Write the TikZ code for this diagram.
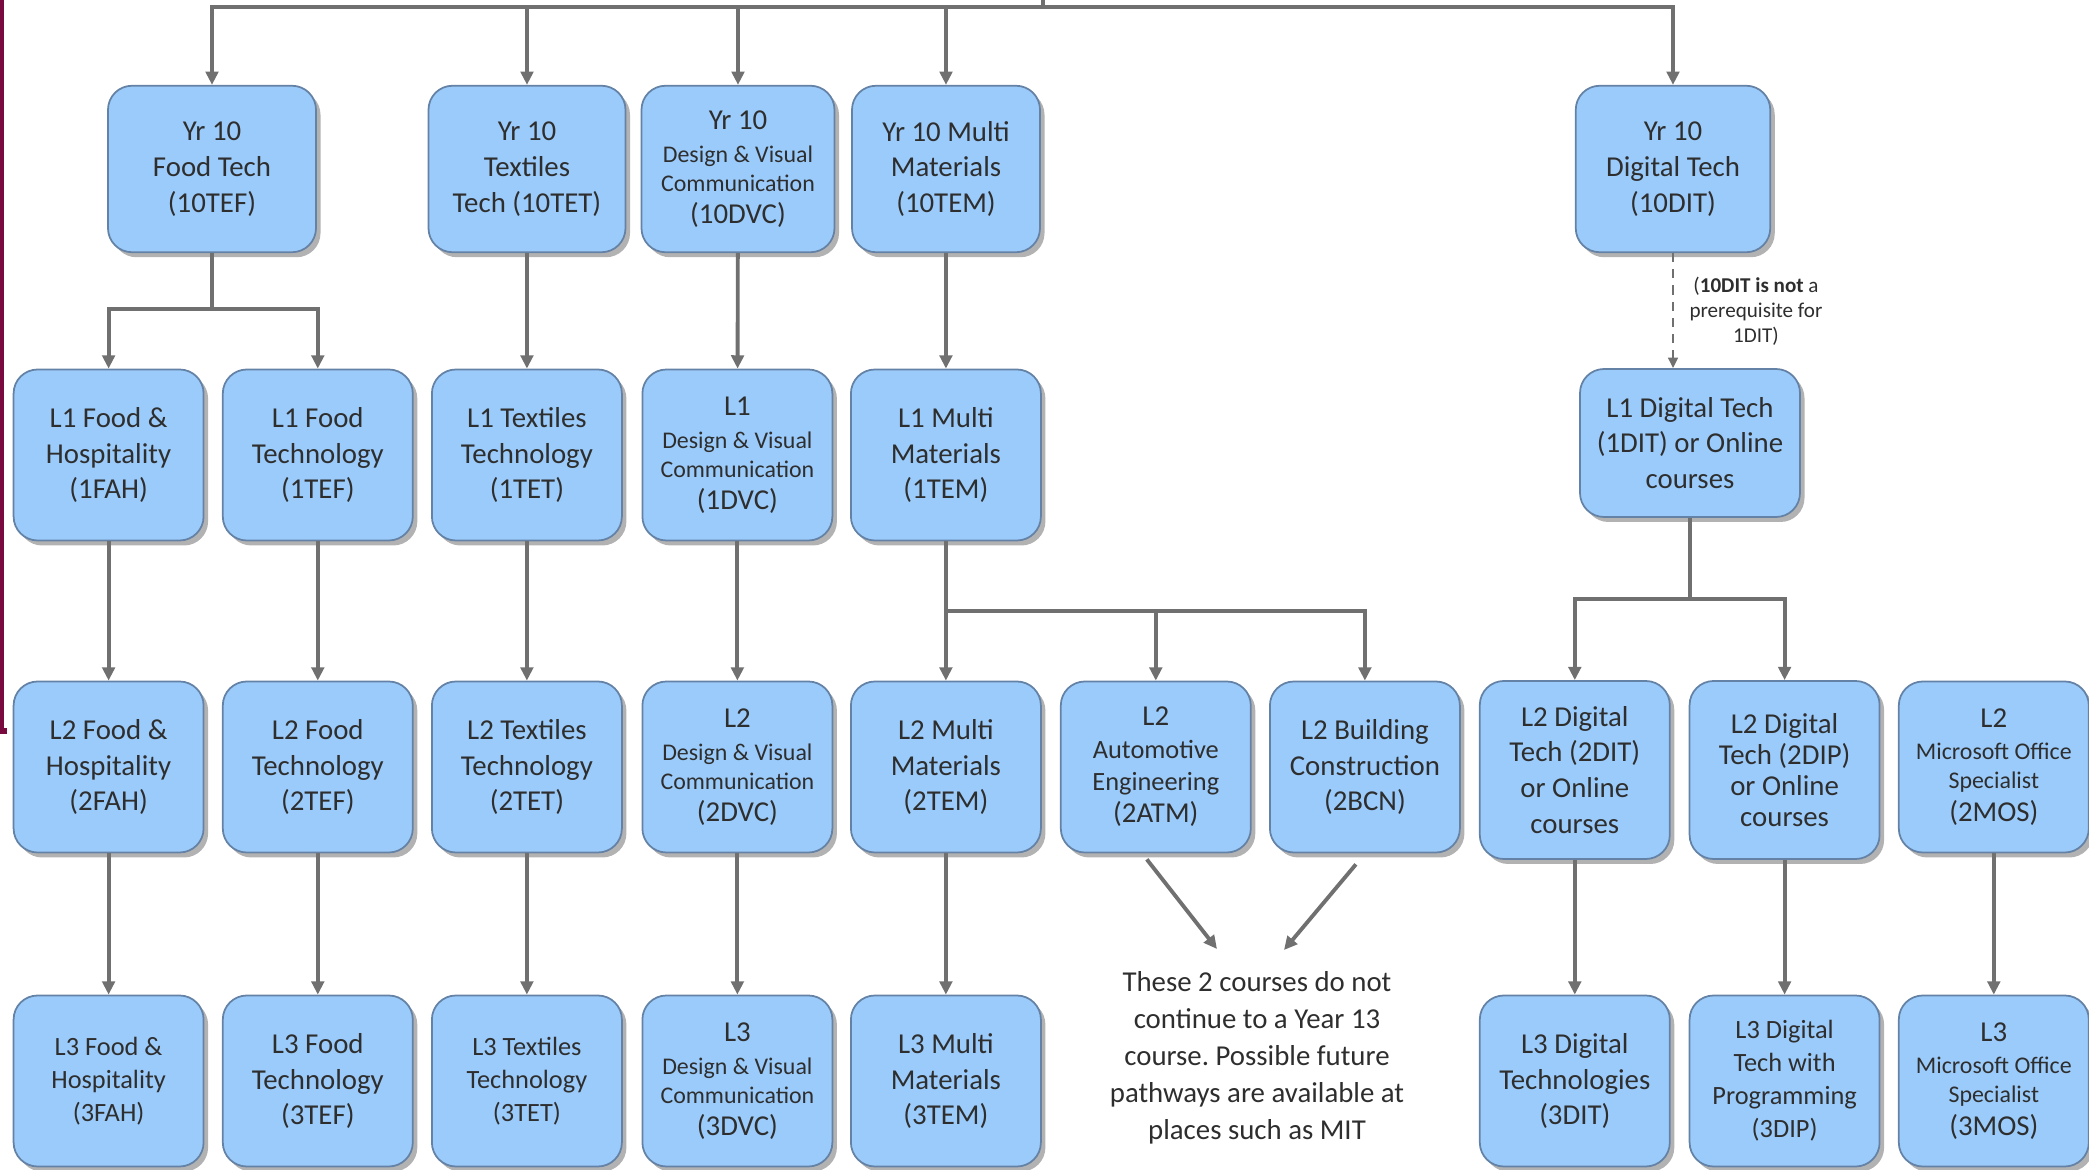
\documentclass[tikz,border=0pt]{standalone}
\usepackage{fontspec}
\setmainfont{Carlito}
\usepackage{tikz}
\usetikzlibrary{arrows.meta,positioning,shadows}
\frenchspacing

\newcommand{\subsize}{\fontsize{6.8}{8.3}\selectfont}
\newcommand{\midsize}{\fontsize{7.5}{9.4}\selectfont}

\begin{document}
\begin{tikzpicture}[every node/.style={font=\fontsize{8.2}{10.2}\selectfont, text=black!82},
    course/.style={draw=boxedge, line width=0.5pt, fill=boxfill, rounded corners=0.24cm, align=center,
        minimum width=1.9cm, minimum height=1.71cm, inner sep=1pt,
        drop shadow={shadow xshift=0.045cm, shadow yshift=-0.05cm, fill=black!30, opacity=1}},
    link/.style={draw=linegray, line width=1.1pt},
    >={Triangle[length=3.8pt,width=3.6pt]}]
        \definecolor{boxfill}{RGB}{155,203,250}
        \definecolor{boxedge}{RGB}{100,130,165}
        \definecolor{linegray}{RGB}{112,112,112}
        \definecolor{edgemaroon}{RGB}{120,10,64}

        \useasboundingbox (0,0) rectangle (20.89,-11.70);

        % page edge on the far left
        \draw[edgemaroon, line width=1.6pt] (0.01,0) -- (0.01,-7.31) -- (0.07,-7.31);

        % Year 10 courses
        \node[course, minimum width=2.08cm, minimum height=1.665cm] (tef10) at (2.12,-1.69) {Yr 10\\Food Tech\\(10TEF)};
        \node[course, minimum width=1.97cm, minimum height=1.665cm] (tet10) at (5.27,-1.69) {Yr 10\\Textiles\\Tech (10TET)};
        \node[course, minimum width=1.93cm, minimum height=1.665cm] (dvc10) at (7.38,-1.69) {Yr 10\\[-0.8pt]{\subsize Design \& Visual}\\[-1.9pt]{\subsize Communication}\\[-1.1pt](10DVC)};
        \node[course, minimum width=1.88cm, minimum height=1.665cm] (tem10) at (9.46,-1.69) {Yr 10 Multi\\Materials\\(10TEM)};
        \node[course, minimum width=1.945cm, minimum height=1.665cm] (dit10) at (16.73,-1.69) {Yr 10\\Digital Tech\\(10DIT)};

        % Level 1
        \node[course] (fah1) at (1.086,-4.55) {L1 Food \&\\Hospitality\\(1FAH)};
        \node[course] (tef1) at (3.178,-4.55) {L1 Food\\Technology\\(1TEF)};
        \node[course] (tet1) at (5.269,-4.55) {L1 Textiles\\Technology\\(1TET)};
        \node[course] (dvc1) at (7.374,-4.55) {L1\\[-0.8pt]{\subsize Design \& Visual}\\[-1.9pt]{\subsize Communication}\\[-1.1pt](1DVC)};
        \node[course] (tem1) at (9.459,-4.55) {L1 Multi\\Materials\\(1TEM)};
        \node[course, minimum width=2.2cm, minimum height=1.48cm] (dit1) at (16.90,-4.43) {L1 Digital Tech\\(1DIT) or Online\\courses};

        % Level 2
        \node[course] (fah2) at (1.086,-7.67) {L2 Food \&\\Hospitality\\(2FAH)};
        \node[course] (tef2) at (3.178,-7.67) {L2 Food\\Technology\\(2TEF)};
        \node[course] (tet2) at (5.269,-7.67) {L2 Textiles\\Technology\\(2TET)};
        \node[course] (dvc2) at (7.374,-7.67) {L2\\[-0.8pt]{\subsize Design \& Visual}\\[-1.9pt]{\subsize Communication}\\[-1.1pt](2DVC)};
        \node[course] (tem2) at (9.459,-7.67) {L2 Multi\\Materials\\(2TEM)};
        \node[course] (atm2) at (11.558,-7.67) {L2\\[-1pt]{\midsize Automotive}\\[-1pt]{\midsize Engineering}\\[-1pt](2ATM)};
        \node[course] (bcn2) at (13.649,-7.67) {L2 Building\\Construction\\(2BCN)};
        \node[course, minimum height=1.78cm] (dit2) at (15.748,-7.70) {L2 Digital\\Tech (2DIT)\\or Online\\courses};
        \node[course, minimum height=1.78cm] (dip2) at (17.846,-7.70) {L2 Digital\\[-1.4pt]Tech (2DIP)\\[-1.4pt]or Online\\[-1.4pt]courses};
        \node[course] (mos2) at (19.938,-7.67) {L2\\[-1pt]{\subsize Microsoft Office}\\[-1.9pt]{\subsize Specialist}\\[-1pt](2MOS)};

        % Level 3
        \node[course, font=\midsize] (fah3) at (1.086,-10.81) {L3 Food \&\\Hospitality\\(3FAH)};
        \node[course] (tef3) at (3.178,-10.81) {L3 Food\\Technology\\(3TEF)};
        \node[course, font=\midsize] (tet3) at (5.269,-10.81) {L3 Textiles\\Technology\\(3TET)};
        \node[course] (dvc3) at (7.374,-10.81) {L3\\[-0.8pt]{\subsize Design \& Visual}\\[-1.9pt]{\subsize Communication}\\[-1.1pt](3DVC)};
        \node[course] (tem3) at (9.459,-10.81) {L3 Multi\\Materials\\(3TEM)};
        \node[course] (dit3) at (15.748,-10.81) {L3 Digital\\Technologies\\(3DIT)};
        \node[course, font=\midsize] (dip3) at (17.846,-10.81) {L3 Digital\\Tech with\\Programming\\(3DIP)};
        \node[course] (mos3) at (19.938,-10.81) {L3\\[-1pt]{\subsize Microsoft Office}\\[-1.9pt]{\subsize Specialist}\\[-1pt](3MOS)};

        % Notes
        \node[font=\fontsize{8.2}{10.5}\selectfont, align=center] (note) at (12.57,-10.58) {These 2 courses do not\\continue to a Year 13\\course. Possible future\\pathways are available at\\places such as MIT};
        \node[font=\fontsize{6}{7.1}\selectfont, align=center] (nodit) at (17.56,-3.11) {(\textbf{10DIT is not} a\\prerequisite for\\1DIT)};

        % Top bus
        \coordinate (bus) at (10.43,-0.07);
        \draw[link] (bus) -- (10.43,0);
        \foreach \n in {tef10,tet10,dvc10,tem10,dit10}
            \draw[link,->] (bus) -| (\n);

        % Splits
        \coordinate (tefsplit) at (2.12,-3.09);
        \draw[link] (tef10) -- (tefsplit);
        \draw[link,->] (tefsplit) -| (fah1);
        \draw[link,->] (tefsplit) -| (tef1);

        \coordinate (temsplit) at (9.459,-6.11);
        \draw[link] (tem1) -- (temsplit);
        \foreach \n in {tem2,atm2,bcn2}
            \draw[link,->] (temsplit) -| (\n);

        \coordinate (ditsplit) at (16.90,-5.99);
        \draw[link] (dit1) -- (ditsplit);
        \draw[link,->] (ditsplit) -| (dit2);
        \draw[link,->] (ditsplit) -| (dip2);

        % Straight down
        \foreach \a/\b in {tet10/tet1,dvc10/dvc1,tem10/tem1,fah1/fah2,tef1/tef2,tet1/tet2,dvc1/dvc2,
                fah2/fah3,tef2/tef3,tet2/tet3,dvc2/dvc3,tem2/tem3,dit2/dit3,dip2/dip3,mos2/mos3}
            \draw[link,->] (\a) -- (\b);

        % 10DIT is not needed for 1DIT
        \draw[draw=linegray, line width=0.6pt, dash pattern=on 2.6pt off 2pt, -{Triangle[length=3pt,width=2.8pt]}] (dit10.south) -- (dit10.south |- dit1.north);

        % Dead ends
        \coordinate (noteL) at (12.17,-9.49);
        \coordinate (noteR) at (12.84,-9.50);
        \draw[link,->] ([xshift=-0.09cm,yshift=-0.06cm]atm2.south) -- (noteL);
        \draw[link,->] ([xshift=-0.09cm,yshift=-0.11cm]bcn2.south) -- (noteR);
    \end{tikzpicture}
\end{document}
